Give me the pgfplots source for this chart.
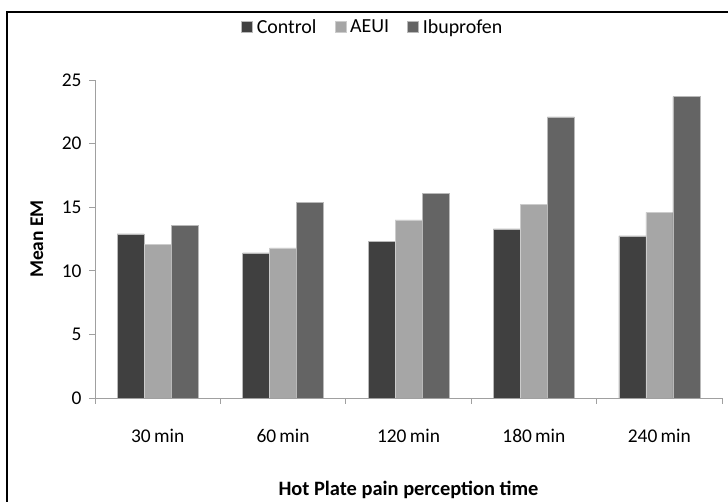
\documentclass[border=0pt]{standalone}
\usepackage{pgfplots}
\pgfplotsset{compat=1.18}
\usepackage{fontspec}
\setmainfont{Carlito}
\definecolor{cctrl}{HTML}{404040}
\definecolor{caeui}{HTML}{A6A6A6}
\definecolor{cibu}{HTML}{646464}
\definecolor{axgray}{HTML}{A0A0A0}
\begin{document}
\begin{tikzpicture}[x=1bp,y=1bp]
\useasboundingbox (0,0) rectangle (728,502);
\begin{axis}[
  at={(95bp,104bp)}, anchor=south west,
  scale only axis, width=627bp, height=318bp,
  xmin=-0.5, xmax=4.5, ymin=0, ymax=25,
  axis x line*=bottom, axis y line*=left,
  axis line style={axgray, line width=0.8bp},
  ytick={0,5,...,25},
  xtick={0,1,2,3,4},
  xticklabels={30\,min,60\,min,120\,min,180\,min,240\,min},
  minor xtick={-0.5,0.5,1.5,2.5,3.5,4.5},
  major x tick style={draw=none},
  minor tick length=6bp, major tick length=6bp,
  tick align=outside,
  tick style={axgray, line width=0.8bp},
  /pgf/number format/assume math mode=true,
  tick label style={font=\fontsize{19.5}{22}\selectfont, color=black},
  xticklabel style={yshift=-22bp},
  yticklabel style={xshift=-4bp},
  ybar=0pt, bar width=27bp,
  xlabel={\textbf{Hot Plate pain perception time}},
  xlabel style={font=\fontsize{20.5}{24}\selectfont, at={(axis description cs:0.5,0)}, anchor=center, yshift=-92bp},
  ylabel={\textbf{Mean EM}},
  ylabel style={font=\fontsize{19.5}{23}\selectfont, at={(axis description cs:0,0.5)}, anchor=center, yshift=58bp},
  legend style={at={(axis description cs:0.443,1.167)}, anchor=center, draw=none, fill=none,
    legend columns=-1, font=\fontsize{20}{23}\selectfont,
    /tikz/every odd column/.append style={column sep=2bp},
    /tikz/every even column/.append style={column sep=16bp}},
  legend image code/.code={\fill[#1] (0bp,-5.5bp) rectangle (11bp,5.5bp);},
]
\addplot[fill=cctrl, draw=gray!55, line width=0.6bp] coordinates {(0,12.9) (1,11.4) (2,12.3) (3,13.3) (4,12.75)};
\addplot[fill=caeui, draw=gray!40, line width=0.6bp] coordinates {(0,12.1) (1,11.8) (2,14.0) (3,15.2) (4,14.6)};
\addplot[fill=cibu, draw=gray!55, line width=0.6bp] coordinates {(0,13.55) (1,15.4) (2,16.1) (3,22.1) (4,23.7)};
\legend{Control,AEUI,Ibuprofen}
\end{axis}
\draw[black, line width=2bp] (7,-10) -- (7,490) -- (740,490);
\end{tikzpicture}
\end{document}
